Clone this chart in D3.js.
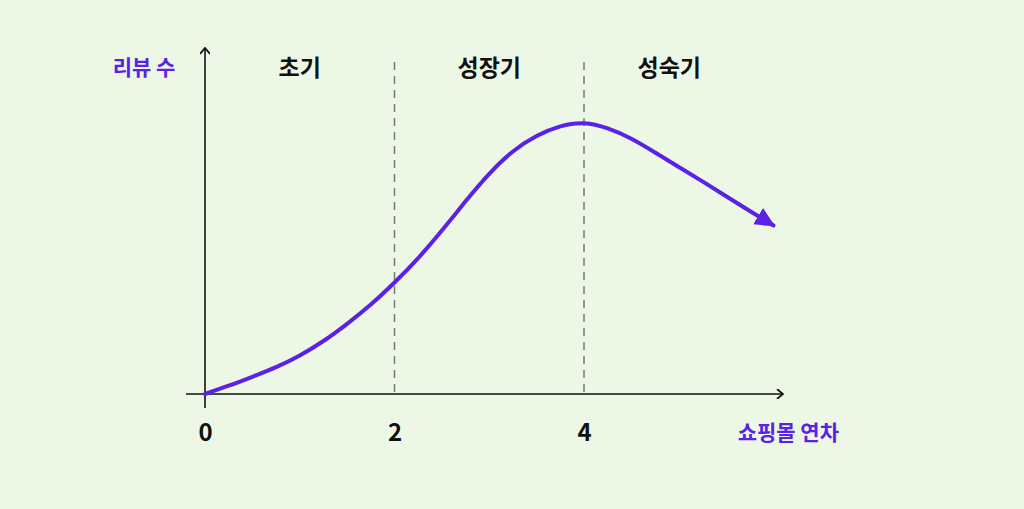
<!DOCTYPE html>
<html>
<head>
<meta charset="utf-8">
<script src="https://cdn.jsdelivr.net/npm/d3@7"></script>
<style>
  html, body { margin: 0; padding: 0; background: #ecf8e5; }
  svg text { font-family: "Noto Sans CJK KR", "Noto Sans", sans-serif; }
</style>
</head>
<body>
<div id="chart"></div>
<script>
// years since opening vs review count (relative units), read every quarter year
var years   = [0, 0.25, 0.5, 0.75, 1, 1.25, 1.5, 1.75, 2, 2.25, 2.5, 2.75, 3,
               3.25, 3.5, 3.75, 4, 4.25, 4.5, 4.75, 5, 5.25, 5.5, 5.75, 6];
var reviews = [0, 2.4, 5, 7.8, 11.2, 15.4, 20.4, 26, 32.4, 39.5, 47.5, 56, 64,
               70.5, 75, 77.8, 78.7, 77.2, 74.2, 70.2, 66, 61.8, 57.5, 53.2, 49];
var xTicks  = [0, 2, 4];
var stageBounds = [2, 4];
var stageNames  = ["초기", "성장기", "성숙기"];
var stageCenters = [1, 3, 4.9];
var yTitle = "리뷰 수",
    xTitle = "쇼핑몰 연차";

var width = 1024, height = 509;
var purple = "#5b21e6";

var svg = d3.select("#chart").append("svg")
    .attr("width", width)
    .attr("height", height);

svg.append("rect")
    .attr("width", width)
    .attr("height", height)
    .attr("fill", "#ecf8e5");

var x = d3.scaleLinear().domain([0, 6]).range([205, 773.5]);
var y = d3.scaleLinear().domain([0, 100]).range([394, 50]);

var defs = svg.append("defs");

// open chevron for the axes
defs.append("marker")
    .attr("id", "open-arrow")
    .attr("viewBox", "0 0 10 10")
    .attr("refX", 9)
    .attr("refY", 5)
    .attr("markerWidth", 10)
    .attr("markerHeight", 10)
    .attr("markerUnits", "userSpaceOnUse")
    .attr("orient", "auto")
    .append("path")
    .attr("d", "M3,0 L9,5 L3,10")
    .attr("fill", "none")
    .attr("stroke", "#111")
    .attr("stroke-width", 1.8);

// filled triangle for the trend line
defs.append("marker")
    .attr("id", "solid-arrow")
    .attr("viewBox", "0 0 20 20")
    .attr("refX", 18)
    .attr("refY", 10)
    .attr("markerWidth", 20)
    .attr("markerHeight", 20)
    .attr("markerUnits", "userSpaceOnUse")
    .attr("orient", "auto")
    .append("path")
    .attr("d", "M0,0.5 L20,10 L0,19.5 Z")
    .attr("fill", purple);

// stage separators
svg.selectAll(".stage-line")
    .data(stageBounds)
    .enter().append("line")
    .attr("class", "stage-line")
    .attr("x1", d => x(d))
    .attr("x2", d => x(d))
    .attr("y1", 62)
    .attr("y2", y(0))
    .attr("stroke", "#777")
    .attr("stroke-width", 1.5)
    .attr("stroke-dasharray", "8,6");

// axes lines
svg.append("line")
    .attr("x1", 186).attr("x2", 783)
    .attr("y1", y(0)).attr("y2", y(0))
    .attr("stroke", "#111")
    .attr("stroke-width", 1.6)
    .attr("marker-end", "url(#open-arrow)");

svg.append("line")
    .attr("x1", x(0)).attr("x2", x(0))
    .attr("y1", 408).attr("y2", 48)
    .attr("stroke", "#111")
    .attr("stroke-width", 1.6)
    .attr("marker-end", "url(#open-arrow)");

// tick labels through the axis generator
var xAxis = d3.axisBottom(x)
    .tickValues(xTicks)
    .tickSize(0)
    .tickPadding(0)
    .tickFormat(d3.format("d"));

var gx = svg.append("g")
    .attr("transform", "translate(0," + y(0) + ")")
    .call(xAxis);
gx.select(".domain").remove();
gx.selectAll("text")
    .attr("dy", null)
    .attr("y", 47)
    .attr("font-size", 24)
    .attr("font-weight", 600)
    .attr("fill", "#111")
    .style("font-family", "'Noto Sans CJK KR', 'Noto Sans', sans-serif");

// curve
var line = d3.line()
    .x((d, i) => x(years[i]))
    .y(d => y(d))
    .curve(d3.curveNatural);

svg.append("path")
    .datum(reviews)
    .attr("d", line)
    .attr("fill", "none")
    .attr("stroke", purple)
    .attr("stroke-width", 4)
    .attr("stroke-linecap", "round")
    .attr("marker-end", "url(#solid-arrow)");

// stage names
svg.selectAll(".stage-name")
    .data(stageNames)
    .enter().append("text")
    .attr("class", "stage-name")
    .attr("x", (d, i) => x(stageCenters[i]))
    .attr("y", 76)
    .attr("text-anchor", "middle")
    .attr("font-size", 23)
    .attr("font-weight", 700)
    .attr("fill", "#111")
    .text(d => d);

// axis titles
svg.append("text")
    .attr("x", 144)
    .attr("y", 75)
    .attr("text-anchor", "middle")
    .attr("font-size", 21)
    .attr("font-weight", 700)
    .attr("fill", purple)
    .text(yTitle);

svg.append("text")
    .attr("x", 839)
    .attr("y", 440)
    .attr("text-anchor", "end")
    .attr("font-size", 21)
    .attr("font-weight", 700)
    .attr("fill", purple)
    .text(xTitle);
</script>
</body>
</html>
